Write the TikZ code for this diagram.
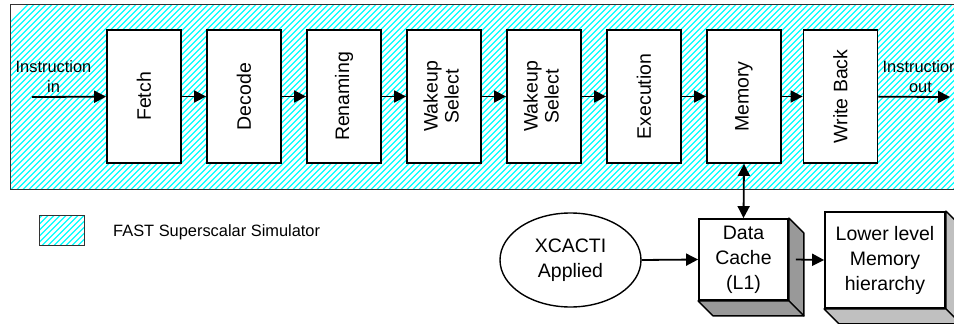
\documentclass[tikz,border=0pt]{standalone}
\usepackage{fontspec}
\setmainfont{Liberation Sans}
\usepackage{graphicx}
\usetikzlibrary{arrows.meta,shapes.geometric}

\definecolor{hatchcyan}{RGB}{0,255,255}
\definecolor{darkface}{RGB}{153,153,153}
\definecolor{lightface}{RGB}{192,192,192}

\begin{document}
\begin{tikzpicture}[x=1pt, y=1pt,
  font=\fontsize{19.5}{21}\selectfont,
  hatched/.style={draw=black!80, line width=0.9pt, fill=white,
    path picture={\foreach \i in {-700,-694,...,700}
      \draw[hatchcyan, line width=1.2pt] ([shift={(\i,-150)}]path picture bounding box.center) -- ++(300,300);}},
  stagebox/.style={draw, line width=1.8pt, fill=white, minimum width=74pt, minimum height=133pt, inner sep=0pt},
  cachebox/.style={draw, line width=1.8pt, fill=white, align=center, inner sep=0pt},
  small/.style={font=\fontsize{16.4}{20}\selectfont, align=center},
  arr/.style={line width=1.8pt, -{Triangle[length=12pt, width=12pt]}}]
\useasboundingbox (0,0) rectangle (954,-324);

% simulator frame and legend
\draw[hatched] (10,-4) rectangle (962,-189);
\node[hatched, minimum width=45pt, minimum height=30pt, inner sep=0pt] (key) at (61.5,-230) {};
\node[small, anchor=west, inner sep=0pt] (keytxt) at (113,-232) {FAST Superscalar Simulator};

% pipeline stages
\node[stagebox] (fetch) at (144,-96.5) {\rotatebox{90}{Fetch}};
\node[stagebox] (decode) at (244,-96.5) {\rotatebox{90}{Decode}};
\node[stagebox] (rename) at (344,-96.5) {\rotatebox{90}{Renaming}};
\node[stagebox] (wake1) at (444,-96.5) {\rotatebox{90}{\begin{tabular}{@{}c@{}}Wakeup\\Select\end{tabular}}};
\node[stagebox] (wake2) at (544,-96.5) {\rotatebox{90}{\begin{tabular}{@{}c@{}}Wakeup\\Select\end{tabular}}};
\node[stagebox] (exec) at (644,-96.5) {\rotatebox{90}{Execution}};
\node[stagebox] (mem) at (744,-96.5) {\rotatebox{90}{Memory}};
\node[stagebox] (wb) at (840.5,-96.5) {\rotatebox{90}{Write Back}};

\coordinate (instart) at (32,-97);
\coordinate (outend) at (950,-97);
\node[small] (intxt) at (53.5,-77) {Instruction\\in};
\node[small] (outtxt) at (920.5,-77) {Instruction\\out};

\draw[arr] (instart) -- (fetch);
\draw[arr] (fetch) -- (decode);
\draw[arr] (decode) -- (rename);
\draw[arr] (rename) -- (wake1);
\draw[arr] (wake1) -- (wake2);
\draw[arr] (wake2) -- (exec);
\draw[arr] (exec) -- (mem);
\draw[arr] (mem) -- (wb);
\draw[arr] (wb) -- (outend);

% cache side
\node[draw, line width=1.4pt, ellipse, minimum width=141pt, minimum height=94pt, inner sep=0pt, align=center,
  font=\fontsize{19.5}{25}\selectfont] (xcacti) at (570.5,-260) {XCACTI\\Applied};

\node[cachebox, minimum width=89pt, minimum height=81pt, font=\fontsize{19.5}{25}\selectfont] (cache) at (743.5,-259.5) {Data\\Cache\\(L1)};
\filldraw[fill=darkface, line width=1.4pt, line join=round] (cache.north east) -- ++(15,-15) -- ([shift={(15,-15)}]cache.south east) -- (cache.south east) -- cycle;
\filldraw[fill=darkface, line width=1.4pt, line join=round] (cache.south west) -- ([shift={(15,-15)}]cache.south west) -- ([shift={(15,-15)}]cache.south east) -- (cache.south east) -- cycle;

\node[cachebox, minimum width=120pt, minimum height=96pt, font=\fontsize{19.5}{25}\selectfont] (lower) at (885,-260) {Lower level\\Memory\\hierarchy};
\filldraw[fill=lightface, line width=1.4pt, line join=round] (lower.north east) -- ++(15,-15) -- ([shift={(15,-15)}]lower.south east) -- (lower.south east) -- cycle;
\filldraw[fill=lightface, line width=1.4pt, line join=round] (lower.south west) -- ([shift={(15,-15)}]lower.south west) -- ([shift={(15,-15)}]lower.south east) -- (lower.south east) -- cycle;

\draw[arr, {Triangle[length=12pt, width=12pt]}-{Triangle[length=12pt, width=12pt]}] (mem.south) -- (cache.north);
\draw[arr] (xcacti.east) -- (cache.west);
\draw[arr] ([xshift=7pt]cache.east) -- (lower.west);
\end{tikzpicture}
\end{document}
